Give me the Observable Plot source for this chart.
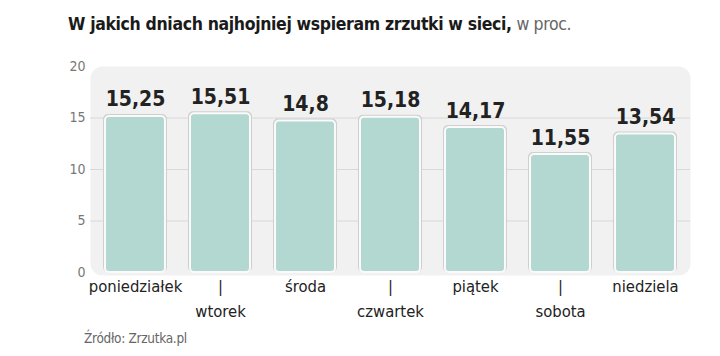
<!DOCTYPE html>
<html><head><meta charset="utf-8">
<script src="https://cdn.jsdelivr.net/npm/d3@7"></script>
<script src="https://cdn.jsdelivr.net/npm/@observablehq/plot@0.6"></script>
<style>
body{margin:0;background:#fff;font-family:"DejaVu Sans Condensed",sans-serif;}
#title{height:48px;line-height:48px;padding-left:68px;font-size:17.5px;letter-spacing:-0.35px;color:#1a1a1a;white-space:nowrap;}
#title b{font-weight:bold;}
#title span{color:#666;}
#cap{height:20px;line-height:20px;padding-left:84px;font-size:13.5px;color:#666;letter-spacing:-0.3px;}
</style></head><body>
<div id="title"><b>W jakich dniach najhojniej wspieram zrzutki w sieci,</b> <span>w proc.</span></div>
<div id="chart"></div>
<div id="cap">Źródło: Zrzutka.pl</div>
<script>
const days = ["poniedziałek","wtorek","środa","czwartek","piątek","sobota","niedziela"];
const values = [15.25, 15.51, 14.8, 15.18, 14.17, 11.55, 13.54];
const labels = ["15,25","15,51","14,8","15,18","14,17","11,55","13,54"];
const yTicks = [0,5,10,15,20];

const data = days.map((d,i)=>({day:d, value:values[i], label:labels[i], row:i%2}));
const font = '"DejaVu Sans Condensed",sans-serif';

const chart = Plot.plot({
  width:720, height:280,
  marginLeft:90, marginRight:30, marginTop:18, marginBottom:56,
  style:{fontFamily:font, background:"transparent"},
  x:{domain:days, paddingInner:0.275, paddingOuter:0.15, axis:null},
  y:{domain:[0,20], axis:null},
  marks:[
    Plot.frame({fill:"#f1f1f1", stroke:null, rx:12, insetBottom:-3}),
    Plot.gridY(yTicks.filter(t=>t>0 && t<20), {stroke:"#d8d8d8", strokeOpacity:1, strokeWidth:1}),
    Plot.axisY(yTicks, {tickSize:0, tickPadding:5, fontSize:14, fill:"#777", textAnchor:"end", label:null}),
    Plot.barY(data, {x:"day", y:"value", fill:"#cfcfcf", rx:5, insetLeft:-1, insetRight:-1, insetTop:-1}),
    Plot.barY(data, {x:"day", y:"value", fill:"#b3d8d1", stroke:"#fafafa", strokeWidth:2, rx:4, insetLeft:1, insetRight:1, insetTop:1}),
    Plot.text(data, {x:"day", y:"value", text:"label", lineAnchor:"bottom", dy:-9, fontSize:21, fontWeight:"bold", fill:"#222", letterSpacing:-1.3}),
    Plot.text(data.filter(d=>d.row===0), {x:"day", y:0, text:"day", dy:14, fontSize:16.5, fill:"#222", letterSpacing:-0.9}),
    Plot.text(data.filter(d=>d.row===1), {x:"day", y:0, text:()=>"|", dy:14, fontSize:16.5, fill:"#222"}),
    Plot.text(data.filter(d=>d.row===1), {x:"day", y:0, text:"day", dy:39, fontSize:16.5, fill:"#222", letterSpacing:-0.9})
  ]
});
document.getElementById("chart").appendChild(chart);
</script>
</body></html>
